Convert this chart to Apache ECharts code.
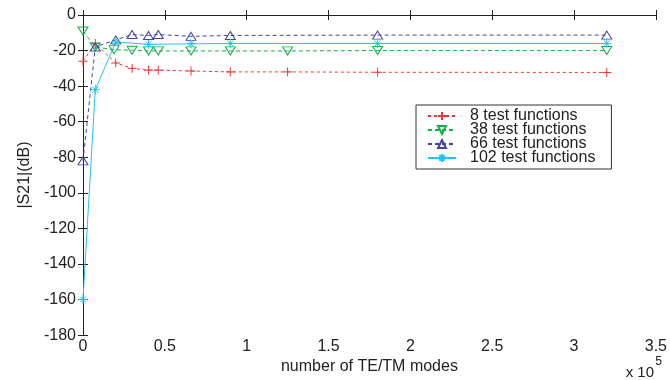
<!DOCTYPE html>
<html>
<head>
<meta charset="utf-8">
<script src="https://cdn.jsdelivr.net/npm/echarts@6/dist/echarts.min.js"></script>
<style>
  html, body { margin: 0; padding: 0; background: #fff; }
  #chart { width: 670px; height: 380px; }
</style>
</head>
<body>
<div id="chart"></div>
<script>
// x values are in units of 10^5 modes
const seriesNames = ['8 test functions', '38 test functions', '66 test functions', '102 test functions'];

const x8 = [0, 0.075, 0.2, 0.3, 0.4, 0.46, 0.66, 0.9, 1.25, 1.8, 3.2];
const y8 = [-26, -16, -27, -30, -31, -31, -31.5, -32, -32, -32.2, -32.3];

const x38 = [0, 0.075, 0.19, 0.3, 0.4, 0.46, 0.66, 0.9, 1.25, 1.8, 3.2];
const y38 = [-9, -18, -19.5, -19.8, -20.2, -20.2, -20.2, -20.2, -20.2, -20, -20];

const x66 = [0, 0.075, 0.2, 0.3, 0.4, 0.46, 0.66, 0.9, 1.8, 3.2];
const y66 = [-82, -18, -14, -11, -11.5, -11, -12, -11.5, -11.3, -11.3];

const x102 = [0, 0.075, 0.2, 0.4, 0.66, 0.9, 1.8, 3.2];
const y102 = [-160, -42, -15.2, -16.5, -16.2, -16, -16, -16];

const xTicks = [0, 0.5, 1, 1.5, 2, 2.5, 3, 3.5];
const yTicks = [-180, -160, -140, -120, -100, -80, -60, -40, -20, 0];

const pair = (xs, ys) => xs.map((x, i) => [x, ys[i]]);

const font = 'Liberation Sans, Arial, sans-serif';
const ink = '#222';

const plusPath = 'path://M0,5L10,5M5,0L5,10';
const starPath = 'path://M0,5L10,5M5,0L5,10M1.6,1.6L8.4,8.4M8.4,1.6L1.6,8.4';
const triUp = 'path://M5,0L10,8.66L0,8.66Z';
const triDown = 'path://M0,0L10,0L5,8.66Z';

function makeSeries(name, data, color, symbol, size, dash) {
  return {
    name: name,
    type: 'line',
    data: data,
    symbol: symbol,
    symbolSize: size,
    showAllSymbol: true,
    animation: false,
    itemStyle: { color: 'rgba(0,0,0,0)', borderColor: color, borderWidth: 1 },
    lineStyle: { color: color, width: 1, type: dash },
    emphasis: { disabled: true }
  };
}

const chart = echarts.init(document.getElementById('chart'));

const axisLine = { show: true, lineStyle: { color: ink, width: 1 } };
const tick = { show: true, inside: true, length: 5, lineStyle: { color: ink } };

chart.setOption({
  backgroundColor: '#fff',
  animation: false,
  grid: { left: 83, right: 8, top: 15, bottom: 41 },
  legend: {
    orient: 'vertical',
    left: 416,
    top: 105,
    padding: [3, 16, 3, 11],
    itemWidth: 28,
    itemHeight: 10,
    itemGap: -2,
    borderColor: '#333',
    borderWidth: 1,
    backgroundColor: '#fff',
    textStyle: { fontFamily: font, fontSize: 16, color: ink, padding: [0, 0, 0, 9] },
    data: seriesNames
  },
  xAxis: [{
    type: 'value',
    min: xTicks[0],
    max: xTicks[xTicks.length - 1],
    interval: xTicks[1] - xTicks[0],
    name: 'number of TE/TM modes',
    nameLocation: 'middle',
    nameGap: 19,
    nameTextStyle: { fontFamily: font, fontSize: 16, color: ink },
    axisLine: axisLine,
    axisTick: tick,
    axisLabel: { fontFamily: font, fontSize: 16, color: ink, margin: 3 },
    splitLine: { show: false }
  }, {
    type: 'value',
    position: 'top',
    min: xTicks[0],
    max: xTicks[xTicks.length - 1],
    interval: xTicks[1] - xTicks[0],
    axisLine: axisLine,
    axisTick: tick,
    axisLabel: { show: false },
    splitLine: { show: false }
  }],
  yAxis: [{
    type: 'value',
    min: yTicks[0],
    max: yTicks[yTicks.length - 1],
    interval: yTicks[1] - yTicks[0],
    name: '|S21|(dB)',
    nameLocation: 'middle',
    nameGap: 48,
    nameTextStyle: { fontFamily: font, fontSize: 16, color: ink },
    axisLine: axisLine,
    axisTick: tick,
    axisLabel: { fontFamily: font, fontSize: 16, color: ink, margin: 7 },
    splitLine: { show: false }
  }, {
    type: 'value',
    position: 'right',
    min: yTicks[0],
    max: yTicks[yTicks.length - 1],
    interval: yTicks[1] - yTicks[0],
    axisLine: axisLine,
    axisTick: tick,
    axisLabel: { show: false },
    splitLine: { show: false }
  }],
  graphic: [
    { type: 'text', right: 16, top: 365, style: { text: 'x 10', font: '15px ' + font, fill: ink } },
    { type: 'text', right: 8, top: 356, style: { text: '5', font: '12px ' + font, fill: ink } }
  ],
  series: [
    makeSeries(seriesNames[0], pair(x8, y8), '#f03535', plusPath, 9, [3, 3]),
    makeSeries(seriesNames[1], pair(x38, y38), '#12b048', triDown, [10, 8], [4, 3]),
    makeSeries(seriesNames[2], pair(x66, y66), '#4444a8', triUp, [10, 8], [4, 3]),
    makeSeries(seriesNames[3], pair(x102, y102), '#22c4f4', starPath, 9, 'solid')
  ]
});

window.addEventListener('resize', () => chart.resize());
</script>
</body>
</html>
